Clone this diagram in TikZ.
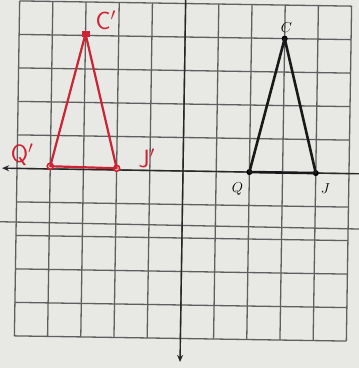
\documentclass[tikz,border=0pt]{standalone}
\usetikzlibrary{arrows.meta}
\definecolor{paper}{RGB}{232,232,229}
\definecolor{gridc}{RGB}{95,95,95}
\definecolor{penred}{RGB}{205,35,50}
\tikzset{
  gridline/.style={draw=gridc,line width=1.3pt},
  axisline/.style={draw=black!85,line width=1.4pt},
  tri/.style={draw=black!90,line width=2.6pt,line join=round},
  redtri/.style={draw=penred,line width=2.2pt,line join=round},
  bdot/.style={circle,fill=black,inner sep=0pt,minimum size=6pt},
  rdot/.style={circle,draw=penred,line width=1.6pt,fill=paper,inner sep=0pt,minimum size=6pt},
  rblob/.style={rectangle,fill=penred,inner sep=0pt,minimum width=8pt,minimum height=6pt},
  blab/.style={inner sep=0pt,font=\fontsize{15}{15}\selectfont},
  rlab/.style={inner sep=0pt,text=penred,font=\fontsize{25}{25}\selectfont\sffamily},
}
\begin{document}
\begin{tikzpicture}[x=1pt,y=1pt]
\useasboundingbox (0,0) rectangle (359,368);
\fill[paper] (0,0) rectangle (359,368);
\begin{scope}[shift={(183,197)},rotate=-0.9,x=33.2pt,y=33.5pt]
  % grid
  \foreach \i in {-5,...,5} {\draw[gridline] (\i,-5) -- (\i,5);}
  \foreach \j in {-5,...,5} {\draw[gridline] (-5,\j) -- (5,\j);}
  \draw[gridline] (-5.5,-1.6) -- (5.5,-1.65);
  % axes
  \coordinate (xl) at (-5.45,0);
  \coordinate (xr) at (5.5,0);
  \coordinate (yt) at (0,5.3);
  \coordinate (yb) at (0,-5.7);
  \draw[axisline,-{Stealth[length=7pt,width=6pt]}] (xr) -- (xl);
  \draw[axisline,-{Stealth[length=7pt,width=6pt]}] (yt) -- (yb);
  % black triangle
  \node[bdot] (C) at (3,4) {};
  \node[bdot] (Q) at (2,0) {};
  \node[bdot] (J) at (4,0) {};
  \draw[tri] (C.center) -- (Q.center) -- (J.center) -- cycle;
  \node[blab] (Cl) at (3.05,4.33) {$C$};
  \node[blab] (Ql) at (1.65,-0.5) {$Q$};
  \node[blab] (Jl) at (4.3,-0.47) {$J$};
  % red triangle
  \node[rblob] (C') at (-3,4.05) {};
  \node[rdot] (Q') at (-4,0.08) {};
  \node[rdot] (J') at (-2,0.05) {};
  \draw[redtri] (C'.center) -- (Q'.center) -- (J'.center) -- cycle;
  \node[rlab] (C'l) at (-2.4,4.45) {C$'$};
  \node[rlab] (Q'l) at (-4.85,0.4) {Q$'$};
  \node[rlab] (J'l) at (-1.1,0.35) {J$'$};
\end{scope}
\end{tikzpicture}
\end{document}
